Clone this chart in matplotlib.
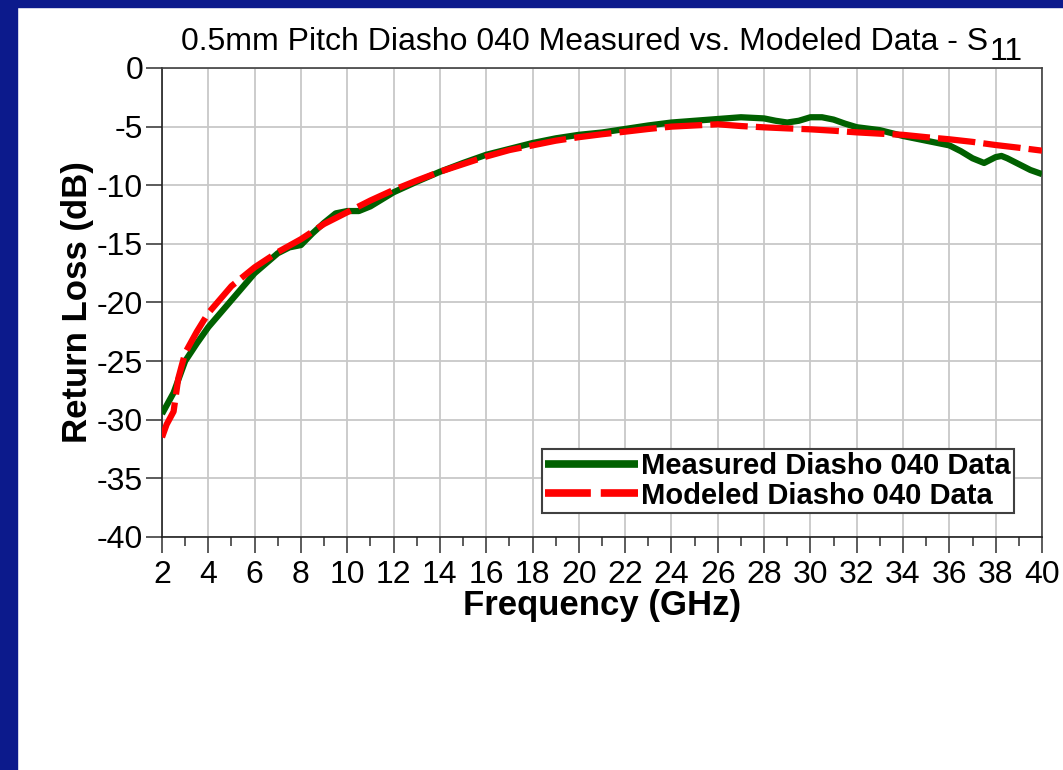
import matplotlib
matplotlib.use('Agg')
import matplotlib.pyplot as plt
from matplotlib.patches import Rectangle
from matplotlib.ticker import MultipleLocator

plt.rcParams['font.family'] = ['Liberation Sans', 'DejaVu Sans']
plt.rcParams['axes.unicode_minus'] = False

# measured S11 (GHz, dB)
meas_freq = [2.0, 2.5, 3.0, 3.5, 4.0, 5.0, 6.0, 7.0, 7.5, 8.0, 8.5, 9.0, 9.5,
             10.0, 10.5, 11.0, 11.5, 12.0, 13.0, 14.0, 15.0, 16.0, 17.0, 18.0,
             19.0, 20.0, 21.0, 22.0, 23.0, 24.0, 25.0, 26.0, 27.0, 28.0, 28.5,
             29.0, 29.5, 30.0, 30.5, 31.0, 31.5, 32.0, 33.0, 34.0, 35.0, 36.0,
             36.5, 37.0, 37.5, 38.0, 38.25, 38.5, 39.0, 39.5, 40.0]
meas_db = [-29.5, -27.7, -25.0, -23.5, -22.1, -19.8, -17.5, -15.8, -15.3, -15.1,
           -14.1, -13.2, -12.4, -12.2, -12.2, -11.8, -11.2, -10.6, -9.7, -8.85,
           -8.1, -7.4, -6.9, -6.4, -6.0, -5.7, -5.5, -5.2, -4.9, -4.65, -4.5,
           -4.35, -4.2, -4.3, -4.5, -4.65, -4.5, -4.2, -4.2, -4.4, -4.75, -5.05,
           -5.3, -5.8, -6.2, -6.6, -7.1, -7.7, -8.1, -7.6, -7.5, -7.7, -8.2,
           -8.7, -9.05]

# modeled S11 (GHz, dB)
mod_freq = [2.0, 2.2, 2.5, 2.7, 3.0, 3.5, 4.0, 5.0, 6.0, 7.0, 8.0, 9.0, 10.0,
            11.0, 12.0, 13.0, 14.0, 15.0, 16.0, 17.0, 18.0, 19.0, 20.0, 21.0,
            22.0, 23.0, 24.0, 25.0, 26.0, 27.0, 28.0, 29.0, 30.0, 31.0, 32.0,
            33.0, 34.0, 35.0, 36.0, 37.0, 38.0, 39.0, 40.0]
mod_db = [-31.5, -30.4, -29.3, -26.5, -24.3, -22.5, -20.9, -18.6, -17.0, -15.7,
          -14.6, -13.3, -12.3, -11.3, -10.4, -9.6, -8.85, -8.2, -7.55, -7.0,
          -6.6, -6.2, -5.9, -5.65, -5.43, -5.2, -5.0, -4.9, -4.8, -4.95, -5.06,
          -5.15, -5.23, -5.35, -5.49, -5.6, -5.7, -5.9, -6.08, -6.3, -6.57,
          -6.8, -7.05]

fig = plt.figure(figsize=(10.63, 7.7), dpi=100)
fig.patch.set_facecolor('white')
blue = '#0c1a8c'
fig.patches.append(Rectangle((0, 0), 17 / 1063, 1, transform=fig.transFigure,
                             color=blue, zorder=0))
fig.patches.append(Rectangle((0, 1 - 7 / 770), 1, 7 / 770, transform=fig.transFigure,
                             color=blue, zorder=0))

ax = fig.add_axes([162 / 1063, 1 - 537 / 770, 880 / 1063, 469 / 770])

ax.plot(meas_freq, meas_db, color='#006000', lw=4.5, solid_capstyle='butt',
        label='Measured Diasho 040 Data', zorder=3)
ax.plot(mod_freq, mod_db, color='#ff0000', lw=4.5, dashes=(6, 1.3),
        label='Modeled Diasho 040 Data', zorder=4)

ax.set_xlim(2, 40)
ax.set_ylim(-40, 0)
ax.xaxis.set_major_locator(MultipleLocator(2))
ax.xaxis.set_minor_locator(MultipleLocator(1))
ax.yaxis.set_major_locator(MultipleLocator(5))
ax.grid(True, which='major', color='#c8c8c8', lw=1.3, zorder=0)

ax.tick_params(axis='y', which='major', labelsize=23, length=11.5, width=1.2,
               color='#404040', direction='out', pad=2)
ax.tick_params(axis='x', which='major', labelsize=23, length=11.5, width=1.2,
               color='#404040', direction='out', pad=5)
ax.tick_params(axis='x', which='minor', length=6.5, width=1.2, color='#404040')
for s in ax.spines.values():
    s.set_color('#404040')
    s.set_linewidth(1.2)
ax.spines['left'].set_color('#202020')
ax.spines['bottom'].set_color('#202020')

ax.set_xlabel('Frequency (GHz)', fontsize=25, fontweight='bold', labelpad=-1)
ax.set_ylabel('Return Loss (dB)', fontsize=25, fontweight='bold', labelpad=2)

t = fig.text(585 / 1063, 1 - 50 / 770,
             '0.5mm Pitch Diasho 040 Measured vs. Modeled Data - S',
             fontsize=23, ha='center', va='baseline')
ax.annotate('11', xy=(1.0, 0.0), xycoords=t, xytext=(1, -7),
            textcoords='offset points', fontsize=23, ha='left', va='bottom',
            annotation_clip=False)

leg = ax.legend(loc='lower right', bbox_to_anchor=(0.968, 0.051), borderaxespad=0,
                prop={'size': 21, 'weight': 'bold'}, handlelength=3.2,
                handletextpad=0.08, borderpad=0.12, labelspacing=0.05,
                fancybox=False, framealpha=1, edgecolor='#404040')
leg.get_frame().set_linewidth(1.5)
for line in leg.get_lines():
    line.set_linewidth(5.5)

fig.savefig('out.png', dpi=100)
